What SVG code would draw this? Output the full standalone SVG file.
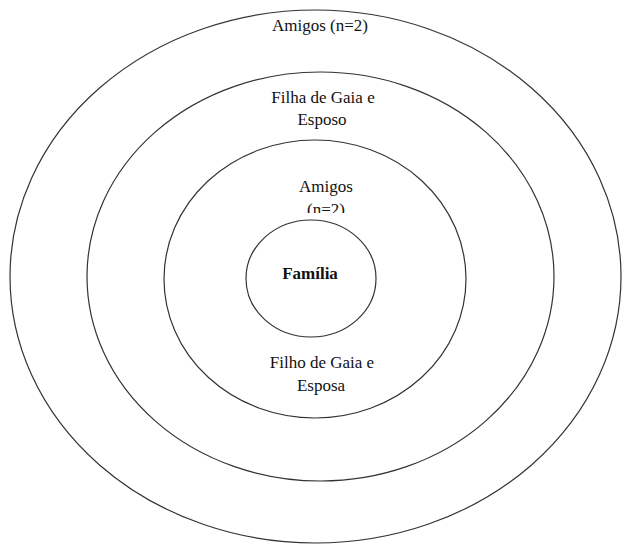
<svg xmlns="http://www.w3.org/2000/svg" width="624" height="546" viewBox="0 0 624 546">
<style>
.ring{fill:#fff;stroke:#333;stroke-width:1.2}
text{font-size:17px;fill:#111;text-anchor:middle}
.b{font-weight:bold}
</style>
<defs>
<clipPath id="cut"><rect x="0" y="0" width="624" height="213"/></clipPath>
</defs>
<rect width="624" height="546" fill="#fff"/>
<g id="ring-outer" font-family="Liberation Serif, Times New Roman, serif">
<ellipse class="ring" cx="315.5" cy="276.5" rx="305.5" ry="266.5"/>
<text x="320" y="31">Amigos (n=2)</text>
</g>
<g id="ring-second" font-family="Liberation Serif, Times New Roman, serif">
<ellipse class="ring" cx="320.5" cy="276.5" rx="233.5" ry="204.5"/>
<text x="323" y="103">Filha de Gaia e</text>
<text x="322" y="125">Esposo</text>
</g>
<g id="ring-third" font-family="Liberation Serif, Times New Roman, serif">
<ellipse class="ring" cx="315" cy="279" rx="151" ry="139"/>
<text x="326" y="192">Amigos</text>
<text x="326" y="215" clip-path="url(#cut)">(n=2)</text>
<text x="322" y="368">Filho de Gaia e</text>
<text x="321" y="391">Esposa</text>
</g>
<g id="ring-inner" font-family="Liberation Serif, Times New Roman, serif">
<ellipse class="ring" cx="311" cy="278.5" rx="65" ry="58.5"/>
<text class="b" x="310" y="279">Família</text>
</g>
<g id="connectors"></g>
</svg>
